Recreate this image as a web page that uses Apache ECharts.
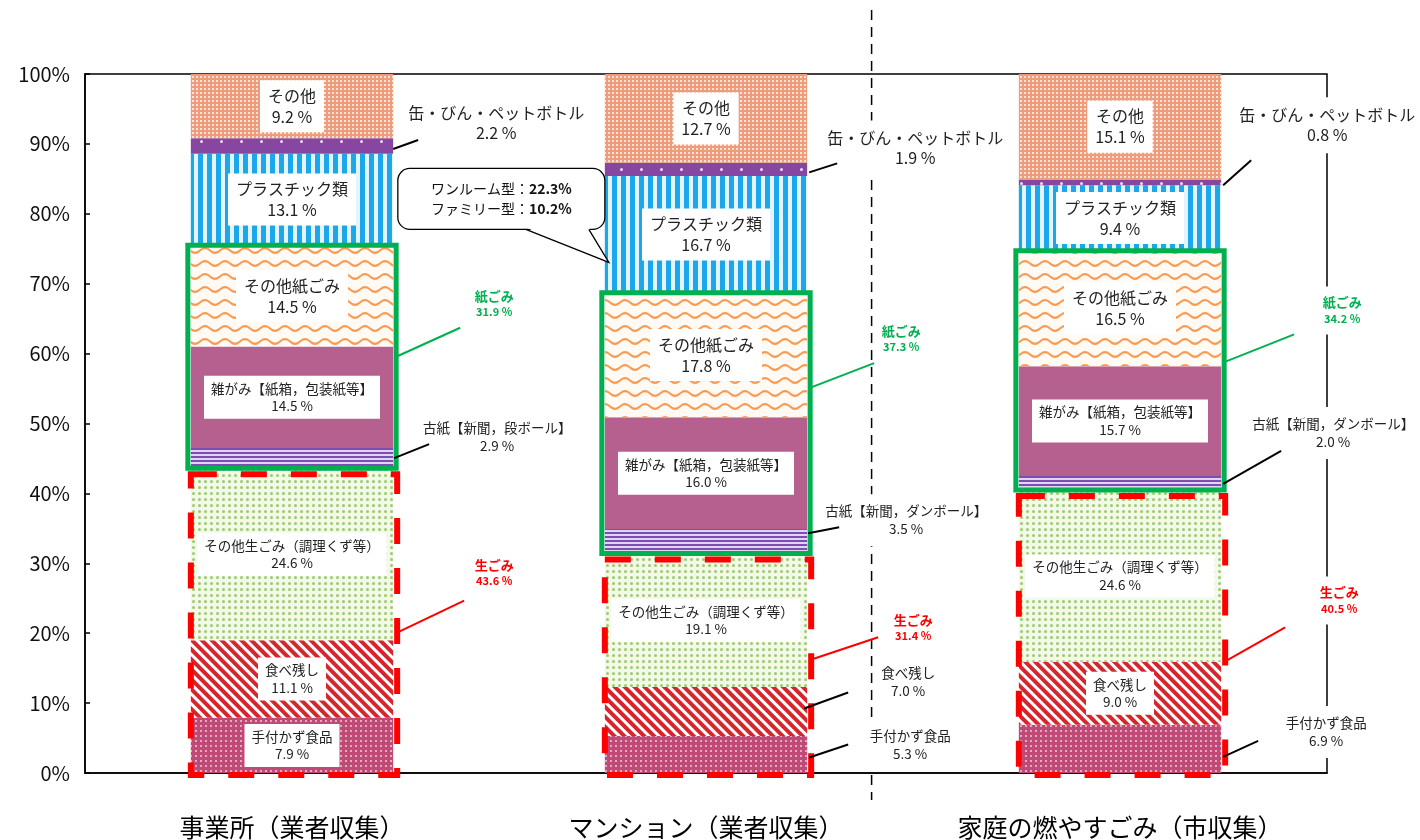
<!DOCTYPE html>
<html><head><meta charset="utf-8">
<script src="https://cdn.jsdelivr.net/npm/echarts@6/dist/echarts.min.js"></script>
<style>html,body{margin:0;padding:0;background:#fff}#c{width:1420px;height:840px}</style>
</head><body><div id="c"></div>
<script>
// ---------- data ----------
const categories = ['事業所（業者収集）', 'マンション（業者収集）', '家庭の燃やすごみ（市収集）'];
const tetsukazu = [7.9, 5.3, 6.9];          // 手付かず食品
const tabenokoshi = [11.1, 7.0, 9.0];       // 食べ残し
const sonotaNamagomi = [24.6, 19.1, 24.6];  // その他生ごみ
const koshi = [2.9, 3.5, 2.0];              // 古紙
const zatsugami = [14.5, 16.0, 15.7];       // 雑がみ
const sonotaKamigomi = [14.5, 17.8, 16.5];  // その他紙ごみ
const plastic = [13.1, 16.7, 9.4];          // プラスチック類
const kanBin = [2.2, 1.9, 0.8];             // 缶・びん・ペットボトル
const sonota = [9.2, 12.7, 15.1];           // その他
const namagomiTotal = [43.6, 31.4, 40.5];   // 生ごみ
const kamigomiTotal = [31.9, 37.3, 34.2];   // 紙ごみ
const plasticTypes = ['ワンルーム型', 'ファミリー型'];
const plasticTypeValues = [22.3, 10.2];
const koshiNames = ['古紙【新聞，段ボール】', '古紙【新聞，ダンボール】', '古紙【新聞，ダンボール】'];
const stackNames = ['手付かず食品', '食べ残し', 'その他生ごみ（調理くず等）', '古紙', '雑がみ【紙箱，包装紙等】', 'その他紙ごみ', 'プラスチック類', '缶・びん・ペットボトル', 'その他'];
const stackValues = [tetsukazu, tabenokoshi, sonotaNamagomi, koshi, zatsugami, sonotaKamigomi, plastic, kanBin, sonota];

// ---------- styles / layout ----------
const FONT = '"Noto Sans CJK JP", "Noto Sans", sans-serif';
const BAR_RATIO = 0.4887;
const GREEN = '#00b050', RED = '#ff0000';
const WAVE = 'path://M0,2.2 Q5,-2.2 10,2.2 Q15,6.6 20,2.2 L20,4.4 Q15,8.8 10,4.4 Q5,0 0,4.4 Z';
const seriesStyles = [
  {color:'#bf4a76', decal:{symbol:'circle', symbolSize:0.9, color:'#f5d9e4', dashArrayX:[2,3], dashArrayY:[2,3]}, size:'S', inside:[true,false,false]},
  {color:'#ffffff', decal:{symbol:'rect', symbolSize:1, color:'#d6262d', dashArrayX:[1,0], dashArrayY:[4,3], rotation:Math.PI/4}, size:'S', inside:[true,false,true]},
  {color:'#f3f9ea', decal:{symbol:'circle', symbolSize:1, color:'#9ccc65', dashArrayX:[2.5,2.5], dashArrayY:[2.5,2.5]}, size:'S', inside:[true,true,true]},
  {color:'#e2d5f0', decal:{symbol:'rect', symbolSize:1, color:'#7c4eb2', dashArrayX:[1,0], dashArrayY:[2,2]}, size:'S', inside:[false,false,false]},
  {color:'#b5608e', decal:null, size:'S', inside:[true,true,true]},
  {color:'#fffaf4', decal:{symbol:WAVE, symbolSize:1, symbolKeepAspect:false, color:'#f89a52', dashArrayX:[20,0], dashArrayY:[6.6,5.4]}, size:'L', inside:[true,true,true]},
  {color:'#e3f4fd', decal:{symbol:'rect', symbolSize:1, color:'#1ca7eb', dashArrayX:[5,4], dashArrayY:[1,0]}, size:'L', inside:[true,true,true]},
  {color:'#8646a2', decal:{symbol:'circle', symbolSize:1, color:'#eadcf2', dashArrayX:[3,17], dashArrayY:[3,11]}, size:'S', inside:[false,false,false]},
  {color:'#ee9c7c', decal:{symbol:'rect', symbolSize:1, color:'#fbe3d8', dashArrayX:[2,2], dashArrayY:[2,2]}, size:'L', inside:[true,true,true]}
];
const labelSizes = {
  L: {fontSize:16, lineHeight:21, padding:[5,8]},
  S: {fontSize:13.5, lineHeight:17.5, padding:[4,7]}
};
// pixel offsets of leader line start (s), end (e) and text centre (t), relative to bar right edge / anchor value
const annoLayout = {
  kan:   [{s:[0,3], e:[25,-6], t:[103,-23]}, {s:[2,3], e:[30,-6], t:[108,-21]}, {s:[2,3], e:[30,-22], t:[106,-57]}],
  kami:  [{s:[3,0], e:[67,-29], t:[101,-53]}, {s:[2,-35], e:[67,-60], t:[94,-84]}, {s:[5,-9], e:[73,-36], t:[121,-60]}],
  koshi: [{s:[1,0], e:[36,-14], t:[104,-21]}, {s:[1,-8], e:[32,-14], t:[99,-21]}, {s:[2,1], e:[60,-32], t:[112,-50]}],
  nama:  [{s:[6,11], e:[71,-20], t:[101,-48]}, {s:[2,-3], e:[71,-26], t:[106,-35]}, {s:[4,30], e:[64,-4], t:[118,-31]}],
  tabe:  {1:{s:[-3,-3], e:[41,-19], t:[101,-30]}},
  tetsu: {1:{s:[2,3], e:[41,-10], t:[103,-10]}, 2:{s:[2,8], e:[37,-8], t:[105,-17]}},
  redBox:   {x0:0, x1:4, y0:6, y1:2, w:6, dash:[26,24]},
  greenBox: {x0:-3, x1:3, y0:0, y1:0, w:5},
  callout:  {tip:[4,28], box:[-211,-4,-94,-33], tail:[-83,-20]},
  sep:      {frac:0.4, top:-64, bottom:27}
};

// ---------- build ----------
const fmt = v => v.toFixed(1) + ' %';
function cum(cat, idx) { let s = 0; for (let k = 0; k < idx; k++) s += stackValues[k][cat]; return s; }

const barSeries = stackNames.map((name, i) => {
  const st = seriesStyles[i];
  const ls = labelSizes[st.size];
  return {
    name, type:'bar', stack:'total', barWidth:(BAR_RATIO*100)+'%',
    itemStyle: Object.assign({color: st.color}, st.decal ? {decal: st.decal} : {}),
    label: {show:true, position:'inside', color:'#222', fontFamily:FONT, fontSize:ls.fontSize, lineHeight:ls.lineHeight,
      padding:ls.padding, backgroundColor:'#fff',
      formatter: p => name + '\n' + fmt(p.value)},
    emphasis:{disabled:true},
    data: stackValues[i].map((v, c) => st.inside[c] ? v : {value:v, label:{show:false}})
  };
});

const annotations = [];
for (let c = 0; c < 3; c++) annotations.push({kind:'box', cat:c, y0:0, y1:namagomiTotal[c], color:RED, L:annoLayout.redBox});
for (let c = 0; c < 3; c++) annotations.push({kind:'box', cat:c, y0:namagomiTotal[c], y1:namagomiTotal[c] + kamigomiTotal[c], color:GREEN, L:annoLayout.greenBox});
annotations.push({kind:'sep', cat:1, y:0});
const txtBlack = {fontSize:13.5, lineHeight:18};
for (let c = 0; c < 3; c++) {
  annotations.push({kind:'anno', cat:c, y:cum(c,7) + kanBin[c]/2, L:annoLayout.kan[c], stroke:'#000',
    text:'缶・びん・ペットボトル\n' + fmt(kanBin[c]), tstyle:{fontSize:16, lineHeight:20, fill:'#222'}});
  annotations.push({kind:'anno', cat:c, y:namagomiTotal[c] + kamigomiTotal[c]/2, L:annoLayout.kami[c], stroke:GREEN,
    text:'{n|紙ごみ}\n{v|' + fmt(kamigomiTotal[c]) + '}', color:GREEN});
  annotations.push({kind:'anno', cat:c, y:cum(c,3) + koshi[c]/2, L:annoLayout.koshi[c], stroke:'#000',
    text:koshiNames[c] + '\n' + fmt(koshi[c]), tstyle:Object.assign({fill:'#222'}, txtBlack)});
  annotations.push({kind:'anno', cat:c, y:namagomiTotal[c]/2, L:annoLayout.nama[c], stroke:RED,
    text:'{n|生ごみ}\n{v|' + fmt(namagomiTotal[c]) + '}', color:RED});
}
Object.keys(annoLayout.tabe).forEach(k => { const c = +k;
  annotations.push({kind:'anno', cat:c, y:tetsukazu[c] + tabenokoshi[c]/2, L:annoLayout.tabe[k], stroke:'#000',
    text:'食べ残し\n' + fmt(tabenokoshi[c]), tstyle:Object.assign({fill:'#222'}, txtBlack)}); });
Object.keys(annoLayout.tetsu).forEach(k => { const c = +k;
  annotations.push({kind:'anno', cat:c, y:tetsukazu[c]/2, L:annoLayout.tetsu[k], stroke:'#000',
    text:'手付かず食品\n' + fmt(tetsukazu[c]), tstyle:Object.assign({fill:'#222'}, txtBlack)}); });
annotations.push({kind:'callout', cat:1, y:cum(1,6) + plastic[1]/2, L:annoLayout.callout,
  text: plasticTypes.map((t, i) => '{n|' + t + '：}{b|' + plasticTypeValues[i].toFixed(1) + '%}').join('\n')});

function renderItem(params, api) {
  const a = annotations[params.dataIndex];
  const band = api.size([1, 0])[0];
  const half = band * BAR_RATIO / 2;
  if (a.kind === 'box') {
    const L = a.L;
    const p1 = api.coord([a.cat, a.y1]);
    const p0 = api.coord([a.cat, a.y0]);
    const x0 = p1[0] - half + L.x0, x1 = p1[0] + half + L.x1;
    const y0 = p1[1] + L.y0, y1 = p0[1] + L.y1;
    return {type:'rect', shape:{x:x0, y:y0, width:x1-x0, height:y1-y0},
      style:{fill:'none', stroke:a.color, lineWidth:L.w, lineDash:L.dash || null}};
  }
  if (a.kind === 'sep') {
    const L = annoLayout.sep;
    const p = api.coord([a.cat, 0]);
    const top = api.coord([a.cat, 100])[1];
    const x = p[0] + band * L.frac;
    return {type:'line', shape:{x1:x, y1:top + L.top, x2:x, y2:p[1] + L.bottom},
      style:{stroke:'#000', lineWidth:1.5, lineDash:[10,7], fill:'none'}};
  }
  if (a.kind === 'callout') {
    const L = a.L;
    const c = api.coord([a.cat, a.y]);
    const tx = c[0] - half + L.tip[0], ty = c[1] + L.tip[1];
    const bx0 = tx + L.box[0], bx1 = tx + L.box[1], by0 = ty + L.box[2], by1 = ty + L.box[3];
    return {type:'group', children:[
      {type:'rect', shape:{x:bx0, y:by0, width:bx1-bx0, height:by1-by0, r:12}, style:{fill:'#fff', stroke:'#000', lineWidth:1.3}},
      {type:'polygon', shape:{points:[[tx+L.tail[0], by1-2],[tx,ty],[tx+L.tail[1], by1-2]]}, style:{fill:'#fff', stroke:'none'}},
      {type:'polyline', shape:{points:[[tx+L.tail[0], by1],[tx,ty],[tx+L.tail[1], by1]]}, style:{fill:'none', stroke:'#000', lineWidth:1.3}},
      {type:'text', style:{text:a.text, x:(bx0+bx1)/2, y:(by0+by1)/2, align:'center', verticalAlign:'middle', fill:'#111',
        fontFamily:FONT, fontSize:14, lineHeight:20,
        rich:{n:{fontSize:14, fontFamily:FONT, fill:'#111', lineHeight:20}, b:{fontSize:14, fontFamily:FONT, fontWeight:'bold', fill:'#111', lineHeight:20}}}}
    ]};
  }
  // leader + label
  const L = a.L;
  const c = api.coord([a.cat, a.y]);
  const ax = c[0] + half, ay = c[1];
  const textStyle = {text:a.text, x:ax + L.t[0], y:ay + L.t[1], align:'center', verticalAlign:'middle',
    fontFamily:FONT, backgroundColor:'#fff', padding:[8,3]};
  if (a.color) {
    Object.assign(textStyle, {fill:a.color, fontWeight:'bold', fontSize:13, lineHeight:16,
      rich:{n:{fontSize:13, fontWeight:'bold', fill:a.color, fontFamily:FONT, lineHeight:16},
            v:{fontSize:11, fontWeight:'bold', fill:a.color, fontFamily:FONT, lineHeight:16}}});
  } else {
    Object.assign(textStyle, a.tstyle);
  }
  return {type:'group', children:[
    {type:'text', style:textStyle},
    {type:'line', shape:{x1:ax + L.s[0], y1:ay + L.s[1], x2:ax + L.e[0], y2:ay + L.e[1]},
      style:{stroke:a.stroke, lineWidth:2, fill:'none'}}
  ]};
}

const chart = echarts.init(document.getElementById('c'), null, {renderer:'canvas'});
chart.setOption({
  animation:false,
  backgroundColor:'#fff',
  grid:{left:85, right:93, top:74, bottom:67, show:true, borderColor:'#000', borderWidth:1.5, backgroundColor:'transparent'},
  xAxis:{type:'category', data:categories,
    axisLine:{lineStyle:{color:'#000', width:1.5}}, axisTick:{show:false},
    axisLabel:{interval:0, fontSize:25, margin:42, color:'#000', fontFamily:FONT}},
  yAxis:{type:'value', min:0, max:100, interval:10,
    axisLine:{show:true, lineStyle:{color:'#000', width:1.5}},
    axisTick:{show:true, inside:true, length:5, lineStyle:{color:'#000', width:1.5}},
    splitLine:{show:false},
    axisLabel:{formatter:'{value}%', fontSize:20, margin:15, color:'#111', fontFamily:FONT}},
  series: barSeries.concat([{
    type:'custom', name:'annotations', renderItem, clip:false, z:5, silent:true,
    itemStyle:{color:'#000'},
    data: annotations.map(a => [a.cat, a.y || 0])
  }])
});
</script></body></html>
